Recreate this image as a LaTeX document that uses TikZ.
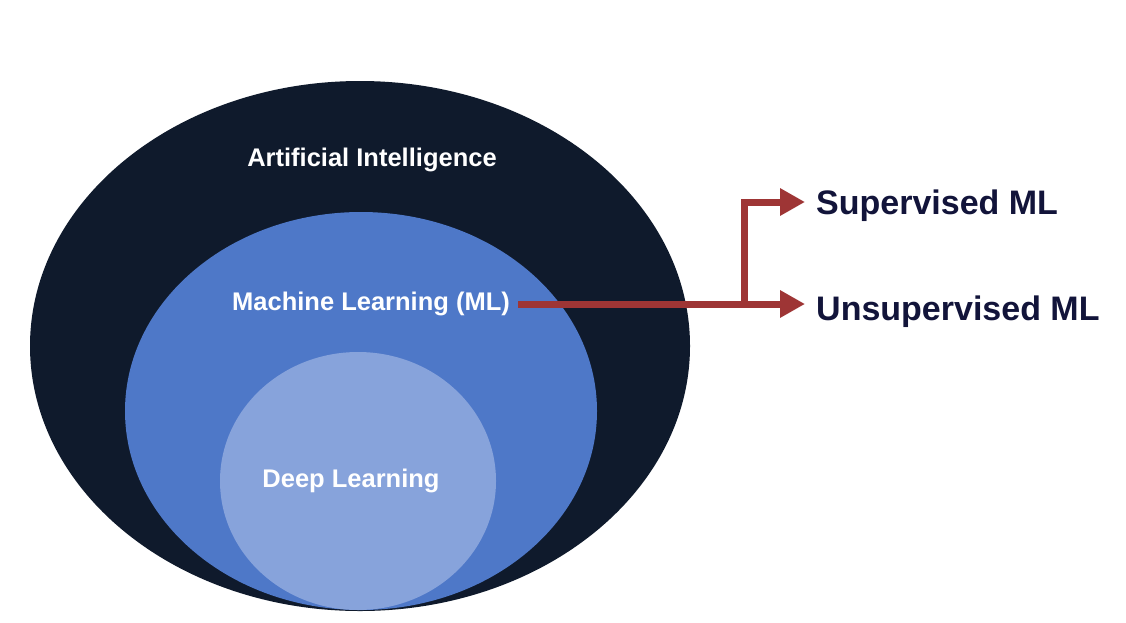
\documentclass[tikz,border=0pt]{standalone}
\usepackage{fontspec}
\setmainfont{Liberation Sans}
\usetikzlibrary{arrows.meta}
\definecolor{aicol}{HTML}{0F1A2C}
\definecolor{mlcol}{HTML}{4E78C8}
\definecolor{dlcol}{HTML}{87A3DB}
\definecolor{arrcol}{HTML}{9E3535}
\definecolor{navytext}{HTML}{12143A}
\tikzset{
  inlabel/.style={text=white, font=\bfseries\fontsize{25.5}{30}\selectfont, inner sep=0pt, text height=18.4pt, text depth=0pt},
  outlabel/.style={text=navytext, font=\bfseries\fontsize{34}{40}\selectfont, anchor=west, inner xsep=11pt, inner ysep=0pt, text height=24.4pt, text depth=0pt},
  conn/.style={draw=arrcol, line width=7pt},
  arr/.style={conn, -{Triangle[length=25pt,width=26pt]}}
}
\begin{document}
\begin{tikzpicture}[x=1pt,y=-1pt]
\useasboundingbox[fill=white] (0,0) rectangle (1126,622);
\fill[aicol] (360,346) ellipse [x radius=330pt, y radius=265pt];
\fill[mlcol] (361,411) ellipse [x radius=236pt, y radius=199pt];
\fill[dlcol] (358,481) ellipse [x radius=138pt, y radius=129pt];
\node[inlabel] (ai) at (372,157) {Artificial Intelligence};
\node[inlabel] (ml) at (371,301) {Machine Learning (ML)};
\node[inlabel] (dl) at (351,478) {Deep Learning};
\node[outlabel] (sup) at (805,202) {Supervised ML};
\node[outlabel] (unsup) at (805,308) {Unsupervised ML};
\coordinate (j) at (744,304);
\draw[conn] ([xshift=8pt]ml.east |- j) -- (j);
\draw[arr] ([xshift=-3.5pt]j) -- (unsup.west |- j);
\draw[arr] ([yshift=3.5pt]j) |- (sup.west);
\end{tikzpicture}
\end{document}
